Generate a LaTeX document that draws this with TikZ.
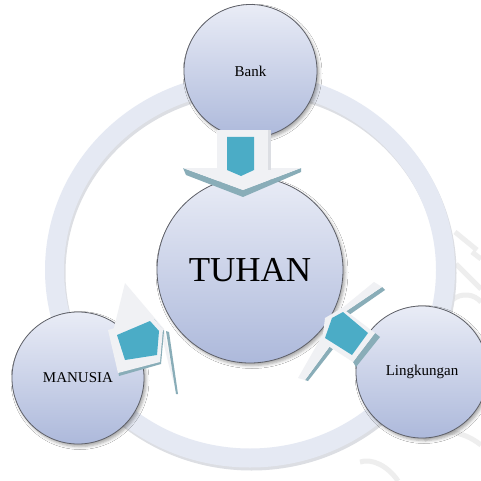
\documentclass[tikz,border=0pt]{standalone}
\usepackage{fontspec}
\setmainfont{Liberation Serif}
\usetikzlibrary{shadows.blur}

\definecolor{ringc}{HTML}{E5E9F3}
\definecolor{ringsh}{HTML}{DCDEE3}
\definecolor{ctop}{HTML}{E9ECF6}
\definecolor{cbot}{HTML}{ADB9DB}
\definecolor{cbord}{HTML}{5E6068}
\definecolor{awhite}{HTML}{F0F1F4}
\definecolor{ashade}{HTML}{89ADB8}
\definecolor{ateal}{HTML}{4BACC6}
\definecolor{wmark}{HTML}{EEEEEE}

\tikzset{
  ball/.style={circle, draw=cbord, line width=0.8pt, top color=ctop, bottom color=cbot,
    inner sep=0pt, minimum size=#1, font=\fontsize{15}{18}\selectfont,
    blur shadow={shadow xshift=2pt, shadow yshift=-2.5pt, shadow blur radius=3pt, shadow opacity=35}},
  aw/.style={fill=awhite},
  ash/.style={fill=ashade},
  atl/.style={fill=ateal},
  wm/.style={draw=wmark, line width=5pt}
}

\begin{document}
\begin{tikzpicture}[x=1pt,y=-1pt]
\useasboundingbox (0,0) rectangle (481,481);
\fill[white] (0,0) rectangle (481,481);

% faint background marks at the lower right
\draw[wm] (455,232) -- (477,250);
\draw[wm] (472,252) -- (481,259);
\draw[wm] (456,264) -- (481,289);
\draw[wm] (452,300) .. controls (462,292) and (474,294) .. (481,302);
\draw[wm] (424,440) .. controls (440,428) and (462,430) .. (481,445);
\draw[wm] (360,462) .. controls (372,458) and (388,466) .. (398,481);

% outer ring with a soft shade under it
\draw[ringsh, line width=19pt] (251.5,273) ellipse [x radius=195.5, y radius=188];
\draw[ringc, line width=19pt] (250,270) ellipse [x radius=195.5, y radius=188];

% circles
\node[ball=186] (tuhan) at (250,270) {\fontsize{35}{40}\selectfont TUHAN};
\node[ball=133] (bank) at (250.5,71) {Bank};
\node[ball=132] (manusia) at (78,378) {MANUSIA};
\node[ball=132] (lingk) at (422,372) {Lingkungan};

% arrow from Bank down to TUHAN
\fill[ash] (183,168) -- (243,190) -- (301,168) -- (301,172) -- (243,197) -- (186,175) -- cycle;
\fill[aw] (183,168) -- (301,168) -- (243,190) -- cycle;
\fill[ringsh] (268,130) rectangle (271,170);
\fill[aw] (217,130) rectangle (268,170);
\fill[atl] (227,137) -- (254,137) -- (254,170) -- (241,176) -- (227,170) -- cycle;

% arrow from MANUSIA to TUHAN
\fill[aw] (125,283) -- (164,329) -- (177,394) -- (170,370) -- (161,333) -- (113,332) -- cycle;
\fill[ash] (166,331) -- (169,332) -- (178,394) -- (176,394) -- cycle;
\fill[ash] (112,333) -- (154,319) -- (164,331) -- (161,364) -- (119,376) -- cycle;
\fill[aw] (108,330) -- (152,317) -- (163,329) -- (160,362) -- (118,373) -- cycle;
\fill[atl] (117,335) -- (150,321) -- (159,331) -- (157,355) -- (125,360) -- cycle;

% arrow from Lingkungan to TUHAN
\fill[ash] (382,287) -- (385,290) -- (349,315) -- (345,312) -- cycle;
\fill[aw] (374,282) -- (382,287) -- (345,312) -- (335,314) -- cycle;
\fill[ash] (330,346) -- (333,349) -- (308,381) -- (305,380) -- cycle;
\fill[aw] (322,336) -- (330,346) -- (305,380) -- (298,378) -- cycle;
\fill[ash] (375,333) -- (380,337) -- (356,367) -- (353,362) -- cycle;
\fill[aw] (325,318) -- (342,308) -- (375,333) -- (353,362) -- (322,342) -- cycle;
\fill[atl] (332,318) -- (343,312) -- (368,333) -- (352,355) -- (325,338) -- cycle;
\end{tikzpicture}
\end{document}
